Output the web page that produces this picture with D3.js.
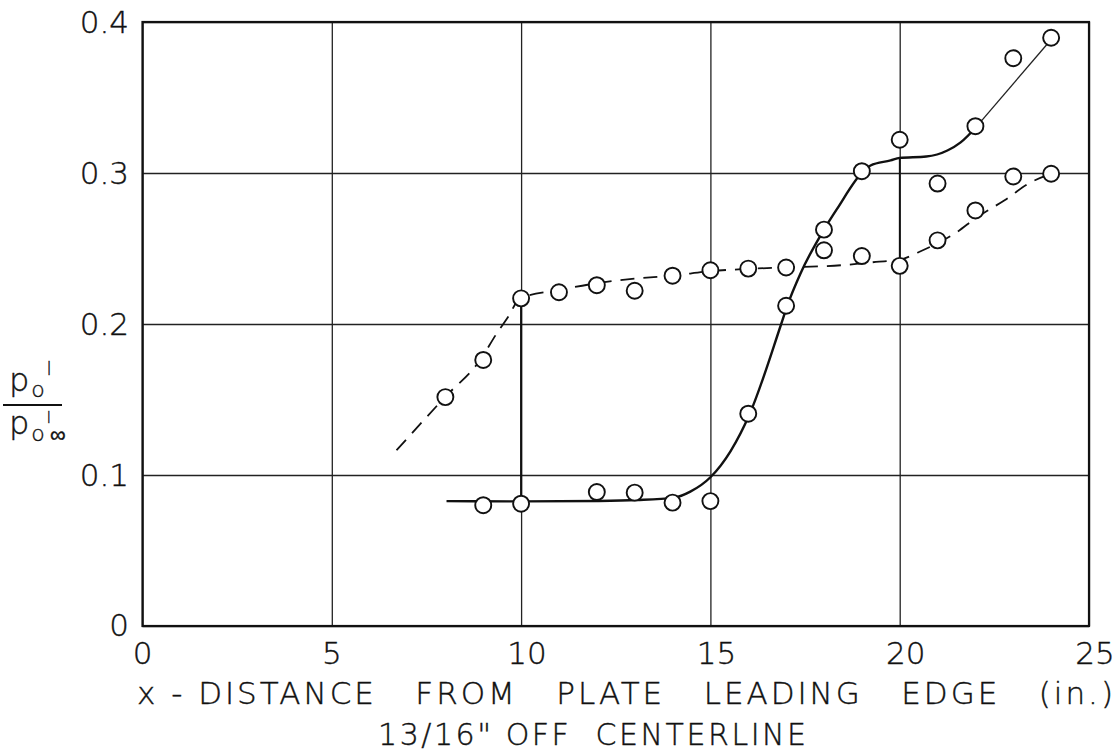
<!DOCTYPE html>
<meta charset="utf-8">
<style>
body { margin: 0; background: #fff; }
svg text { font-family: "DejaVu Sans", sans-serif; font-weight: 200; fill: #111; stroke: #111; stroke-width: 0.4; }
.grid line { stroke: #222; stroke-width: 1.3; }
.grid .domain { display: none; }
.frame { fill: none; stroke: #111; stroke-width: 2.2; }
.solid-curve { fill: none; stroke: #111; stroke-width: 2.4; }
.solid-tail { fill: none; stroke: #222; stroke-width: 1.3; }
.dash-curve { fill: none; stroke: #111; stroke-width: 1.8; stroke-dasharray: 14,9; }
.jump { fill: none; stroke: #111; stroke-width: 2.1; }
.jump.light { stroke-width: 1.7; }
.pt { fill: #fff; stroke: #111; stroke-width: 1.9; }
</style>
<svg width="1117" height="752"></svg>
<script src="https://d3js.org/d3.v7.min.js"></script>
<script>

// measured points, solid-line series (x in inches, p0'/p0'inf)
var solidX = [9, 10, 12, 13, 14, 15, 16, 17, 18, 19, 20, 21, 22, 23, 24];
var solidY = [0.080, 0.081, 0.0887, 0.0883, 0.0817, 0.0827, 0.1406, 0.2121, 0.2625, 0.3012, 0.322, 0.293, 0.331, 0.376, 0.3896];

// measured points, dashed-line series
var dashX = [8, 9, 10, 11, 12, 13, 14, 15, 16, 17, 18, 19, 20, 21, 22, 23, 24];
var dashY = [0.1516, 0.1762, 0.217, 0.221, 0.2257, 0.222, 0.232, 0.2356, 0.2367, 0.2374, 0.2488, 0.245, 0.2385, 0.2554, 0.2752, 0.2977, 0.2995];

// faired curve drawn through the solid series
var fairSolid = [[8.03, 0.0827], [10, 0.0825], [12, 0.0828], [13.06, 0.0834], [14.03, 0.085], [14.47, 0.089],
  [15, 0.0985], [15.53, 0.1157], [16.04, 0.1406], [16.87, 0.2], [17.03, 0.2121], [17.38, 0.2335],
  [18.0, 0.2625], [18.35, 0.2764], [19.04, 0.3012], [19.23, 0.305], [19.76, 0.3083], [20, 0.310],
  [20.7, 0.3109], [21.26, 0.3149], [21.61, 0.3203], [22.04, 0.331]];
var tailSolid = [[22.04, 0.331], [24.04, 0.3896]];

// faired dashed curve
var fairDash = [[6.71, 0.1164], [7.99, 0.1516], [8.92, 0.1762], [9.36, 0.1939], [9.66, 0.2048], [9.97, 0.217],
  [11, 0.2225], [12, 0.227], [13, 0.230], [14, 0.232], [15, 0.235], [16, 0.2365], [17, 0.2375],
  [18.5, 0.239], [19.37, 0.2411], [20, 0.2425], [20.51, 0.2477], [21, 0.2535], [21.52, 0.261],
  [22, 0.270], [22.76, 0.2818], [23.47, 0.2939], [24, 0.2995]];

// vertical connecting strokes
var jumps = [[[10, 0.081], [10, 0.217]], [[20, 0.2385], [20, 0.310]]];

var xTicks = [0, 5, 10, 15, 20, 25];
var yTicks = [0, 0.1, 0.2, 0.3, 0.4];
var xTitle = "x - DISTANCE   FROM   PLATE   LEADING   EDGE   (in.)";
var xSubtitle = "13/16\" OFF  CENTERLINE";

var svg = d3.select("svg");

var x = d3.scaleLinear().domain([0, 25]).range([142.5, 1089]);
var y = d3.scaleLinear().domain([0, 0.4]).range([626, 22]);

// grid
svg.append("g")
    .attr("class", "grid")
    .attr("transform", "translate(0," + y(0) + ")")
    .call(d3.axisBottom(x).tickValues(xTicks).tickSize(y(0.4) - y(0)).tickFormat(""));

svg.append("g")
    .attr("class", "grid")
    .attr("transform", "translate(" + x(0) + ",0)")
    .call(d3.axisLeft(y).tickValues(yTicks).tickSize(x(0) - x(25)).tickFormat(""));

svg.append("rect")
    .attr("class", "frame")
    .attr("x", x(0)).attr("y", y(0.4))
    .attr("width", x(25) - x(0)).attr("height", y(0) - y(0.4));

// tick labels
svg.selectAll(".xl").data(xTicks).enter().append("text")
    .attr("x", function(d) { return x(d) + (d >= 10 ? 6 : 0); })
    .attr("y", 664)
    .attr("text-anchor", "middle")
    .attr("font-size", 31)
    .text(function(d) { return d; });

svg.selectAll(".yl").data(yTicks).enter().append("text")
    .attr("x", 129)
    .attr("y", function(d) { return y(d) + (d === 0 ? 10 : 11); })
    .attr("text-anchor", "end")
    .attr("font-size", 31)
    .text(function(d) { return d === 0 ? "0" : d.toFixed(1); });

// axis titles
svg.append("text")
    .attr("x", 137).attr("y", 704)
    .attr("font-size", 31)
    .attr("textLength", 976).attr("lengthAdjust", "spacing")
    .style("white-space", "pre")
    .text(xTitle);

svg.append("text")
    .attr("x", 378).attr("y", 745)
    .attr("font-size", 30)
    .attr("textLength", 428).attr("lengthAdjust", "spacing")
    .style("white-space", "pre")
    .text(xSubtitle);

// y label as a fraction p0' / p0'inf (prime drawn as a short stroke glyph)
var num = svg.append("text").attr("x", 9).attr("y", 391).attr("font-size", 32);
num.append("tspan").text("p");
num.append("tspan").attr("font-size", 22).attr("dy", 6).attr("dx", 2).text("o");
num.append("tspan").attr("font-size", 17).attr("dy", -22).attr("dx", 2).text("l");

svg.append("line")
    .attr("x1", 3).attr("x2", 62).attr("y1", 405).attr("y2", 405)
    .attr("stroke", "#111").attr("stroke-width", 2);

var den = svg.append("text").attr("x", 9).attr("y", 434).attr("font-size", 32);
den.append("tspan").text("p");
den.append("tspan").attr("font-size", 22).attr("dy", 7).attr("dx", 2).text("o");
den.append("tspan").attr("font-size", 15).attr("dy", -18).attr("dx", 2).text("l");
den.append("tspan").attr("font-size", 22).attr("dy", 19).attr("dx", -1).text("\u221e");

// curves
var line = d3.line()
    .x(function(d) { return x(d[0]); })
    .y(function(d) { return y(d[1]); })
    .curve(d3.curveMonotoneX);

var straight = d3.line()
    .x(function(d) { return x(d[0]); })
    .y(function(d) { return y(d[1]); });

svg.append("path").attr("class", "dash-curve").attr("d", line(fairDash));
svg.append("path").attr("class", "solid-curve").attr("d", line(fairSolid));
svg.append("path").attr("class", "solid-tail").attr("d", straight(tailSolid));

svg.selectAll(".jump").data(jumps).enter().append("path")
    .attr("class", function(d, i) { return i ? "jump light" : "jump"; })
    .attr("d", straight);

// measured points
svg.selectAll(".pd").data(dashX).enter().append("circle")
    .attr("class", "pt")
    .attr("cx", function(d) { return x(d); })
    .attr("cy", function(d, i) { return y(dashY[i]); })
    .attr("r", 8);

svg.selectAll(".ps").data(solidX).enter().append("circle")
    .attr("class", "pt")
    .attr("cx", function(d) { return x(d); })
    .attr("cy", function(d, i) { return y(solidY[i]); })
    .attr("r", 8);

</script>
